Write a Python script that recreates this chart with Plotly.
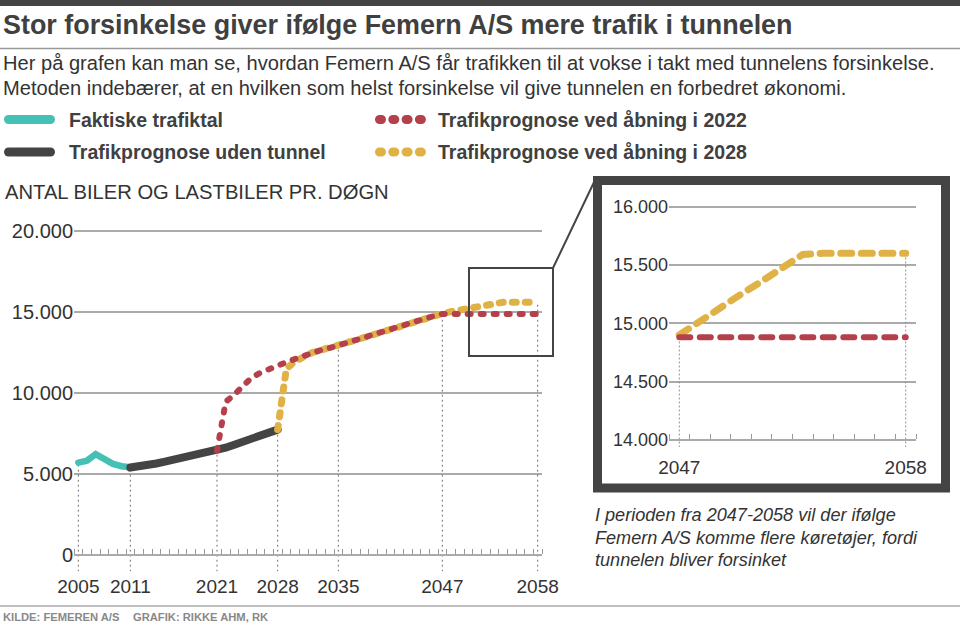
import plotly.graph_objects as go

# ---- data ----
years_actual = list(range(2005, 2012))
actual = [5700, 5820, 6220, 5960, 5620, 5480, 5420]

years_no_tunnel = list(range(2011, 2029))
no_tunnel = [5400, 5450, 5540, 5650, 5760, 5870, 5980, 6090, 6200, 6310,
             6430, 6620, 6810, 7000, 7190, 7380, 7570, 7740]

years_2022 = list(range(2021, 2059))
open_2022 = [6430, 9450, 9900, 10400, 10950, 11250, 11500, 11700, 11900, 12100,
             12300, 12500, 12650, 12780, 12920, 13090, 13260, 13430, 13600, 13780,
             13950, 14110, 14270, 14430, 14590, 14740, 14880, 14880, 14880, 14880,
             14880, 14880, 14880, 14880, 14880, 14880, 14880, 14880]

years_2028 = list(range(2028, 2059))
open_2028 = [7740, 11500, 11950, 12250, 12500, 12650, 12780, 12920, 13090, 13260,
             13430, 13600, 13780, 13950, 14110, 14270, 14430, 14590, 14740, 14900,
             15020, 15130, 15250, 15360, 15480, 15590, 15600, 15600, 15600, 15600,
             15600]

x_ticks = [2005, 2011, 2021, 2028, 2035, 2047, 2058]
y_ticks = [0, 5000, 10000, 15000, 20000]
inset_x_ticks = [2047, 2058]
inset_y_ticks = [14000, 14500, 15000, 15500, 16000]

# which series each dotted year guide starts from
guides = [(2005, "actual"), (2011, "no_tunnel"), (2021, "no_tunnel"), (2028, "no_tunnel"),
          (2035, "open_2022"), (2047, "open_2028"), (2058, "open_2028")]
inset_guides = [(2047, "open_2028"), (2058, "open_2028")]

series = {
    "actual": dict(zip(years_actual, actual)),
    "no_tunnel": dict(zip(years_no_tunnel, no_tunnel)),
    "open_2022": dict(zip(years_2022, open_2022)),
    "open_2028": dict(zip(years_2028, open_2028)),
}

# ---- styling ----
W, H = 960, 625
FONT = "Liberation Sans, Arial, sans-serif"
TEAL = "#45c0b4"
DARK = "#444444"
RED = "#b3404a"
GOLD = "#e0b246"
TEXT = "#333333"
GRID = "#aaaaaa"


def px(x):
    return x / W


def py(y):
    return 1 - y / H


fig = go.Figure()


def add_line(x, y, color, width, dash="solid", xa="x", ya="y"):
    fig.add_trace(go.Scatter(x=x, y=y, mode="lines", xaxis=xa, yaxis=ya,
                             line=dict(color=color, width=width, dash=dash),
                             hoverinfo="skip", showlegend=False))


# main chart
add_line(years_actual, actual, TEAL, 6.5)
add_line(years_no_tunnel, no_tunnel, DARK, 8)
add_line(years_2028, open_2028, GOLD, 7, "4px,9px")
add_line(years_2022, open_2022, RED, 6, "3px,10px")

# inset 2047-2058
in22 = [(yr, v) for yr, v in zip(years_2022, open_2022) if yr >= 2047]
in28 = [(yr, v) for yr, v in zip(years_2028, open_2028) if yr >= 2047]
add_line([a for a, b in in28], [b for a, b in in28], GOLD, 7, "11px,9.6px", "x2", "y2")
add_line([a for a, b in in22], [b for a, b in in22], RED, 6, "11px,9.5px", "x2", "y2")

shapes = []
for yr, key in guides:
    shapes.append(dict(type="line", xref="x", yref="y", x0=yr, x1=yr, y0=-1000,
                       y1=series[key][yr], layer="between",
                       line=dict(color="#666666", width=1, dash="1px,4px")))
for yr, key in inset_guides:
    shapes.append(dict(type="line", xref="x2", yref="y2", x0=yr, x1=yr, y0=13940,
                       y1=series[key][yr], layer="between",
                       line=dict(color="#888888", width=1, dash="1px,3px")))

# frame, rules, zoom box
shapes += [
    dict(type="rect", xref="paper", yref="paper", x0=0, x1=1, y0=py(6), y1=1,
         fillcolor=DARK, line=dict(width=0)),
    dict(type="line", xref="paper", yref="paper", x0=0, x1=1, y0=py(48.5), y1=py(48.5),
         line=dict(color="#999999", width=1.5)),
    dict(type="line", xref="paper", yref="paper", x0=0, x1=1, y0=py(606), y1=py(606),
         line=dict(color="#aaaaaa", width=1.5)),
    dict(type="rect", xref="paper", yref="paper", x0=px(469), x1=px(553),
         y0=py(356), y1=py(268), line=dict(color=DARK, width=2)),
    dict(type="line", xref="paper", yref="paper", x0=px(553), x1=px(596),
         y0=py(268), y1=py(178), line=dict(color=DARK, width=2)),
    dict(type="rect", xref="paper", yref="paper", x0=px(597.5), x1=px(945.5),
         y0=py(488), y1=py(180.5), line=dict(color=DARK, width=9)),
]

# legend swatches
legend_rows = [
    ("Faktiske trafiktal", TEAL, "solid", 8.5, 50.5, 67, 119.5),
    ("Trafikprognose uden tunnel", DARK, "solid", 8.5, 50.5, 67, 152),
    ("Trafikprognose ved åbning i 2022", RED, "2px,11.3px", 379.5, 421.4, 436, 119.5),
    ("Trafikprognose ved åbning i 2028", GOLD, "2px,11.3px", 379.5, 421.4, 436, 152),
]


def ann(text, x, y, size, color=TEXT):
    return dict(text=text, x=px(x), y=py(y), xref="paper", yref="paper",
                xanchor="left", yanchor="middle", showarrow=False,
                font=dict(family=FONT, size=size, color=color))


annotations = []
for label, color, dash, x0, x1, tx, ty in legend_rows:
    shapes.append(dict(type="line", xref="paper", yref="paper", x0=px(x0), x1=px(x1),
                       y0=py(ty), y1=py(ty), line=dict(color=color, width=9, dash=dash)))
    annotations.append(ann("<b>%s</b>" % label, tx, ty, 19.5, "#404040"))

annotations += [
    ann("<b>Stor forsinkelse giver ifølge Femern A/S mere trafik i tunnelen</b>",
        1, 24.5, 26.9, "#404040"),
    ann("Her på grafen kan man se, hvordan Femern A/S får trafikken til at vokse "
        "i takt med tunnelens forsinkelse.", 1, 63, 20.1),
    ann("Metoden indebærer, at en hvilken som helst forsinkelse vil give tunnelen "
        "en forbedret økonomi.", 1, 87.5, 20.1),
    ann("ANTAL BILER OG LASTBILER PR. DØGN", 3, 192, 20.2),
    ann("<i>I perioden fra 2047-2058 vil der ifølge</i>", 593, 515, 18.1),
    ann("<i>Femern A/S komme flere køretøjer, fordi</i>", 593, 537.5, 18.1),
    ann("<i>tunnelen bliver forsinket</i>", 593, 560, 18.1),
    ann("<b>KILDE: FEMEREN A/S</b>", 1, 617, 11.2, "#888888"),
    ann("<b>GRAFIK: RIKKE AHM, RK</b>", 131, 617, 11.2, "#888888"),
]

axis_common = dict(showgrid=False, zeroline=False, ticks="", tickmode="array",
                   automargin=False, tickfont=dict(family=FONT, color=TEXT))

fig.update_layout(
    width=W, height=H, margin=dict(l=0, r=0, t=0, b=0, pad=0), autosize=False,
    paper_bgcolor="white", plot_bgcolor="white", showlegend=False,
    separators=",.", font=dict(family=FONT, color=TEXT),
    xaxis=dict(axis_common, domain=[px(74), px(542)], range=[2004.5, 2058.5],
               anchor="free", position=py(555), tickvals=x_ticks,
               tickfont=dict(family=FONT, size=19, color=TEXT),
               showline=True, linecolor=GRID, linewidth=1.5, ticklabelstandoff=14,
               minor=dict(tickmode="linear", tick0=2004.5, dtick=1, ticks="inside",
                          ticklen=5, tickwidth=1, tickcolor="#999999", showgrid=False)),
    yaxis=dict(axis_common, domain=[py(571.2), py(224.5)], range=[-1000, 20400],
               anchor="x", tickvals=y_ticks, tickformat=",d",
               tickfont=dict(family=FONT, size=20, color=TEXT),
               showgrid=True, gridcolor=GRID, gridwidth=1.5),
    xaxis2=dict(axis_common, domain=[px(669), px(916)], range=[2046.5, 2058.5],
                anchor="free", position=py(440), tickvals=inset_x_ticks,
                tickfont=dict(family=FONT, size=19, color=TEXT),
                showline=True, linecolor=GRID, linewidth=1.5, ticklabelstandoff=10,
                minor=dict(tickmode="linear", tick0=2046.5, dtick=1, ticks="inside",
                           ticklen=5, tickwidth=1, tickcolor="#999999", showgrid=False)),
    yaxis2=dict(axis_common, domain=[py(447), py(203.2)], range=[13940, 16030],
                anchor="x2", tickvals=inset_y_ticks, tickformat=",d",
                tickfont=dict(family=FONT, size=18, color=TEXT),
                showgrid=True, gridcolor=GRID, gridwidth=1.5),
    shapes=shapes,
    annotations=annotations,
)

# page without body margin, rounded line ends like the original
page_css = ("var s=document.createElement('style');"
            "s.innerHTML='body{margin:0;overflow:hidden}"
            ".js-line,.shapelayer path{stroke-linecap:round}';"
            "document.head.appendChild(s);")

fig.write_html("out.html", post_script=page_css, config={"displayModeBar": False})
